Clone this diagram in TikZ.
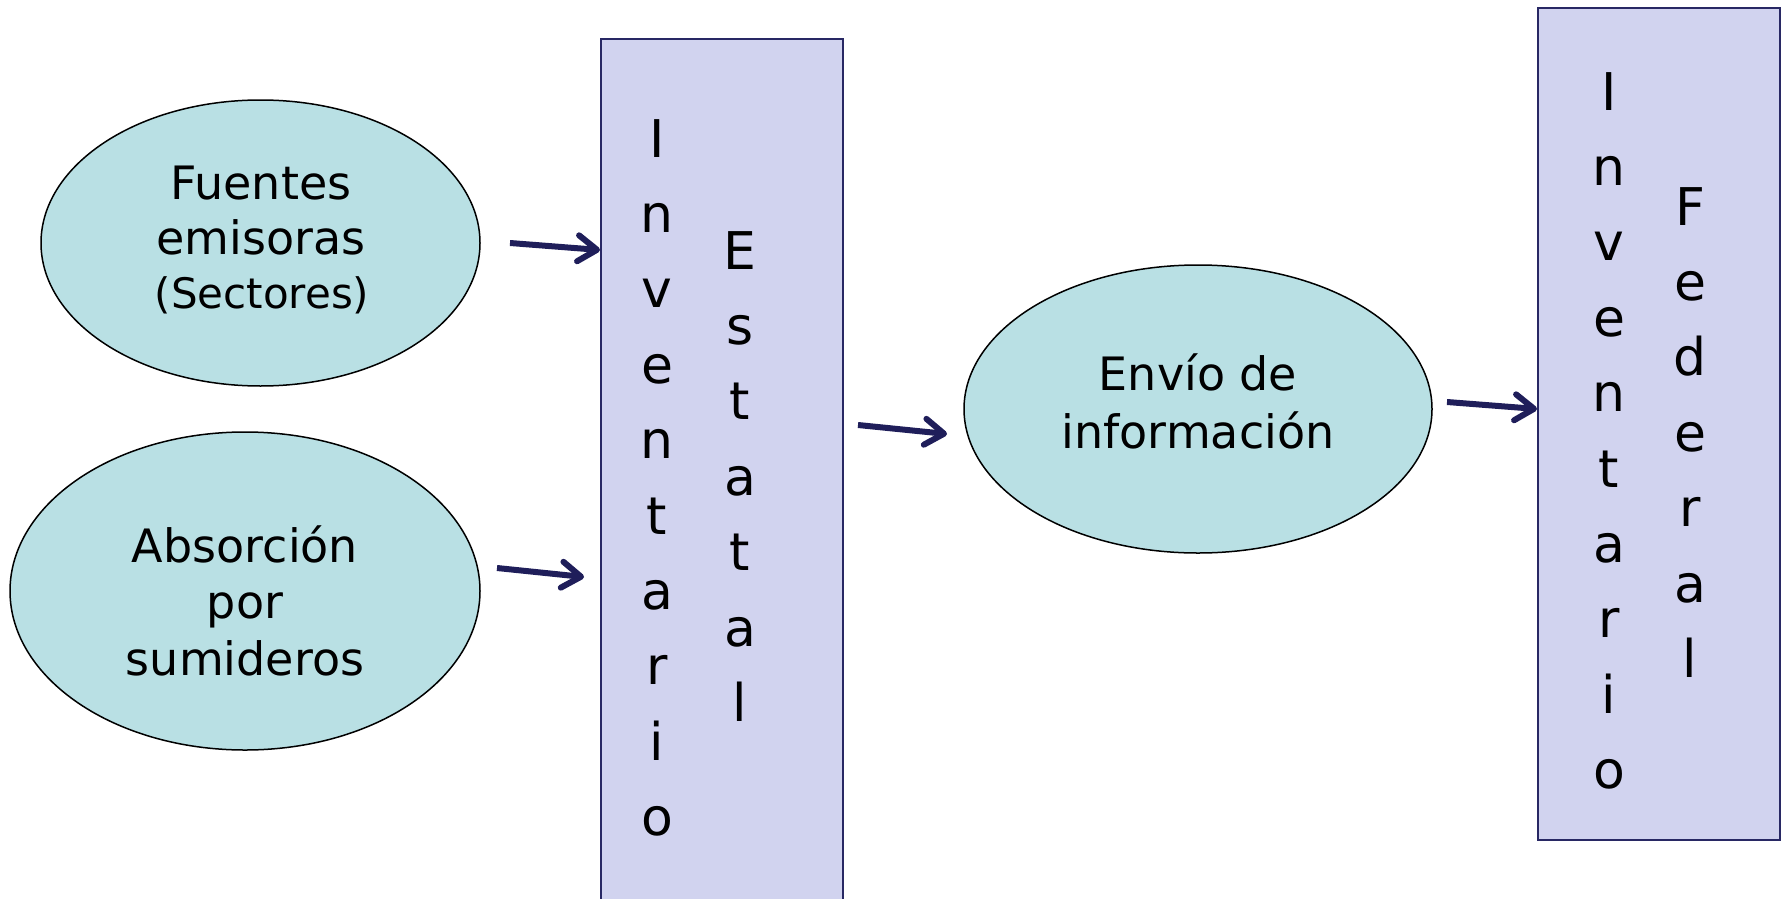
\documentclass[tikz,border=0pt]{standalone}
\usepackage{fontspec}
\setmainfont{DejaVu Sans}
\usetikzlibrary{arrows.meta,shapes.geometric}
\definecolor{boxfill}{RGB}{209,211,239}
\definecolor{boxline}{RGB}{40,40,100}
\definecolor{ellfill}{RGB}{185,224,228}
\definecolor{arrowcol}{RGB}{31,30,90}
\tikzset{
  ell/.style={ellipse, draw=black, line width=1.5pt, fill=ellfill, inner sep=0pt},
  invbox/.style={draw=boxline, line width=2pt, fill=boxfill},
  etxt/.style={anchor=base, inner sep=0pt, font=\fontsize{46}{55}\selectfont},
  stxt/.style={anchor=base, inner sep=0pt, font=\fontsize{42}{50}\selectfont},
  vl/.style={anchor=base, inner sep=0pt, font=\fontsize{52}{60}\selectfont},
  flow/.style={draw=arrowcol, line width=6pt, -{Straight Barb[length=19pt,width=26pt,round]}}
}
\begin{document}
\begin{tikzpicture}[x=1pt,y=-1pt]
\useasboundingbox (0,0) rectangle (1782,899);
% boxes
\path[invbox] (601,39) rectangle (843,910);
\path[invbox] (1538,8) rectangle (1780,840);
\node[inner sep=0pt] (estatal) at (722,470) {};
\node[inner sep=0pt] (federal) at (1659,424) {};
% vertical letters
\foreach \c [count=\i from 0] in {I,n,v,e,n,t,a,r,i,o}
  \node[vl] (ie\i) at (657,157+75.4*\i) {\c};
\foreach \c [count=\i from 0] in {E,s,t,a,t,a,l}
  \node[vl] (es\i) at (740,269+75.4*\i) {\c};
\foreach \c [count=\i from 0] in {I,n,v,e,n,t,a,r,i,o}
  \node[vl] (if\i) at (1609,110+75.4*\i) {\c};
\foreach \c [count=\i from 0] in {F,e,d,e,r,a,l}
  \node[vl] (fe\i) at (1690,225+75.4*\i) {\c};
% ellipses
\node[ell, minimum width=439pt, minimum height=286pt] (fuentes) at (260.5,243) {};
\node[ell, minimum width=470pt, minimum height=318pt] (absorcion) at (245,591) {};
\node[ell, minimum width=468pt, minimum height=288pt] (envio) at (1198,409) {};
\node[etxt] (f1) at (261,199) {Fuentes};
\node[etxt] (f2) at (261,254) {emisoras};
\node[stxt] (f3) at (262,308) {(Sectores)};
\node[etxt] (a1) at (245,562) {Absorción};
\node[etxt] (a2) at (245,618) {por};
\node[etxt] (a3) at (245,675) {sumideros};
\node[etxt] (n1) at (1198,390) {Envío de};
\node[etxt] (n2) at (1198,448) {información};
% arrow ends
\coordinate (s1) at (510,243); \coordinate (e1) at (600,250);
\coordinate (s2) at (497,568); \coordinate (e2) at (584,577);
\coordinate (s3) at (858,425); \coordinate (e3) at (947,434);
\coordinate (s4) at (1447,402); \coordinate (e4) at (1537,409);
\draw[flow] (s1) -- (e1);
\draw[flow] (s2) -- (e2);
\draw[flow] (s3) -- (e3);
\draw[flow] (s4) -- (e4);
\end{tikzpicture}
\end{document}
